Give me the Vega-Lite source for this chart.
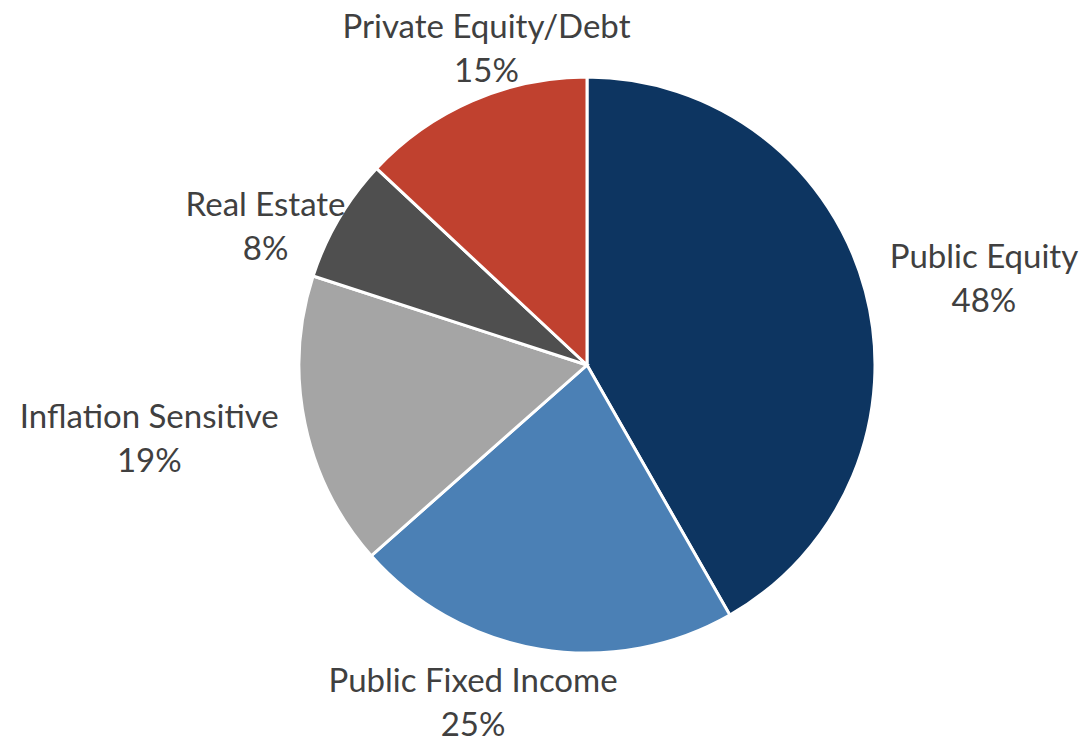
{
  "$schema": "https://vega.github.io/schema/vega-lite/v6.json",
  "autosize": {"type": "none"},
  "width": 994,
  "height": 730,
  "padding": {"left": 90, "right": 0, "top": 0, "bottom": 14},
  "background": "white",
  "config": {"view": {"stroke": null}, "text": {"font": "Lato", "fontSize": 33, "fill": "#404040", "lineHeight": 44}},
  "data": {"values": [
    {"category": "Public Equity", "value": 48, "rank": 1, "label": "Public Equity\n48%"},
    {"category": "Public Fixed Income", "value": 25, "rank": 2, "label": "Public Fixed Income\n25%"},
    {"category": "Inflation Sensitive", "value": 19, "rank": 3, "label": "Inflation Sensitive\n19%"},
    {"category": "Real Estate", "value": 8, "rank": 4, "label": "Real Estate\n8%"},
    {"category": "Private Equity/Debt", "value": 15, "rank": 5, "label": "Private Equity/Debt\n15%"}
  ]},
  "encoding": {
    "theta": {"field": "value", "type": "quantitative", "stack": true},
    "order": {"field": "rank", "type": "quantitative"}
  },
  "layer": [
    {
      "mark": {"type": "arc", "outerRadius": 288, "stroke": "white", "strokeWidth": 3},
      "encoding": {
        "color": {"field": "category", "type": "nominal", "legend": null,
          "scale": {"domain": ["Public Equity", "Public Fixed Income", "Inflation Sensitive", "Real Estate", "Private Equity/Debt"],
                    "range": ["#0d3561", "#4b80b5", "#a5a5a5", "#4f4f4f", "#c0412f"]}}
      }
    },
    {
      "mark": {"type": "text", "radius": 300, "dx": 107, "dy": -30, "lineBreak": "\n", "align": "center", "baseline": "middle"},
      "encoding": {"text": {"condition": {"test": "datum.category === 'Public Equity'", "field": "label"}, "value": ""}}
    },
    {
      "mark": {"type": "text", "radius": 300, "dx": -65, "dy": 21, "lineBreak": "\n", "align": "center", "baseline": "middle"},
      "encoding": {"text": {"condition": {"test": "datum.category === 'Public Fixed Income'", "field": "label"}, "value": ""}}
    },
    {
      "mark": {"type": "text", "radius": 300, "dx": -144, "dy": -8, "lineBreak": "\n", "align": "center", "baseline": "middle"},
      "encoding": {"text": {"condition": {"test": "datum.category === 'Inflation Sensitive'", "field": "label"}, "value": ""}}
    },
    {
      "mark": {"type": "text", "radius": 300, "dx": -63, "dy": -7, "lineBreak": "\n", "align": "center", "baseline": "middle"},
      "encoding": {"text": {"condition": {"test": "datum.category === 'Real Estate'", "field": "label"}, "value": ""}}
    },
    {
      "mark": {"type": "text", "radius": 300, "dx": 19, "dy": -62, "lineBreak": "\n", "align": "center", "baseline": "middle"},
      "encoding": {"text": {"condition": {"test": "datum.category === 'Private Equity/Debt'", "field": "label"}, "value": ""}}
    }
  ]
}
